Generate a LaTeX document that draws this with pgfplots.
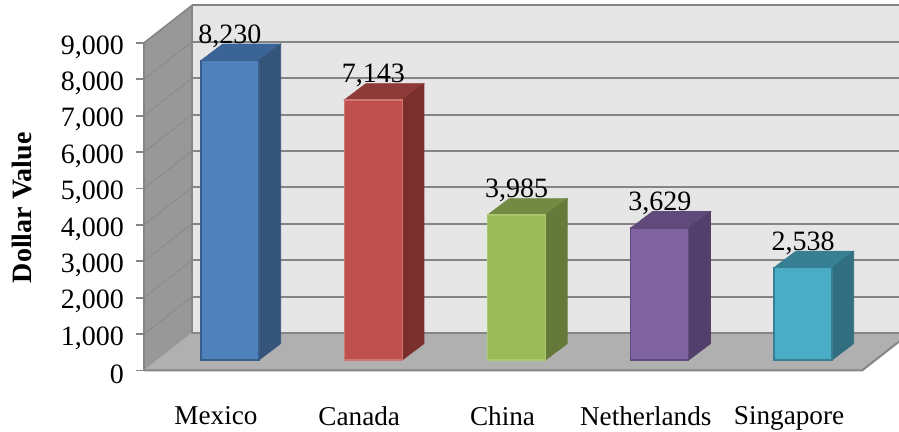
\documentclass[border=0pt]{standalone}
\usepackage{fontspec}
\setmainfont{Liberation Serif}
\usepackage{pgfplots}
\pgfplotsset{compat=1.18}

\definecolor{wallback}{HTML}{E6E6E6}
\definecolor{wallside}{HTML}{989898}
\definecolor{wallfloor}{HTML}{B0B0B0}
\definecolor{gridgray}{HTML}{858585}
\definecolor{blueF}{RGB}{79,129,189}
\definecolor{blueT}{RGB}{58,100,150}
\definecolor{blueS}{RGB}{53,84,122}
\definecolor{blueE}{RGB}{56,93,138}
\definecolor{redF}{RGB}{192,80,77}
\definecolor{redT}{RGB}{142,58,56}
\definecolor{redS}{RGB}{122,47,45}
\definecolor{redE}{RGB}{205,120,117}
\definecolor{greenF}{RGB}{155,187,89}
\definecolor{greenT}{RGB}{114,138,66}
\definecolor{greenS}{RGB}{101,121,58}
\definecolor{greenE}{RGB}{170,200,110}
\definecolor{purpleF}{RGB}{128,100,162}
\definecolor{purpleT}{RGB}{96,74,123}
\definecolor{purpleS}{RGB}{83,63,107}
\definecolor{tealF}{RGB}{75,172,198}
\definecolor{tealT}{RGB}{55,127,147}
\definecolor{tealS}{RGB}{49,111,128}

\pgfplotsset{
  chartbox/.style={
    scale only axis, width=377.5pt, height=182.75pt,
    xmin=-0.6003, xmax=4.67, clip=false,
  },
  face/.style={fill=#1, draw=#1, line width=0.3pt, mark=none},
  frontbar/.style 2 args={ybar, bar width=29pt, bar shift=0pt, fill=#1, draw=#2, line width=0.6pt, nodes near coords},
}

\begin{document}
\begin{tikzpicture}
  \useasboundingbox (-72pt,-30.75pt) rectangle (377.5pt,185.25pt);

  % walls, floor, grid and the tick labels (front plane of the box)
  \begin{axis}[
    chartbox,
    ymin=0, ymax=10041,
    axis line style={draw=none},
    tick pos=left, tick align=outside,
    xtick={0,1,2,3,4},
    xticklabels={Mexico,Canada,China,Netherlands,Singapore},
    xticklabel style={font=\fontsize{13.6}{16}\selectfont, xshift=-7pt, yshift=-10.5pt},
    x tick style={draw=none},
    ytick={0,1000,...,9000},
    scaled y ticks=false,
    ytick style={draw=gridgray, line width=0.9pt},
    major tick length=4pt,
    yticklabel style={font=\fontsize{14}{16}\selectfont, yshift=-2pt, xshift=-2.5pt},
    /pgf/number format/1000 sep={,},
    /pgf/number format/assume math mode=true,
    ylabel={\textbf{Dollar Value}},
    every axis y label/.style={at={(axis description cs:-0.1616,0.445)}, rotate=90, anchor=center, font=\fontsize{14}{16}\selectfont},
  ]
    \addplot[face=wallback] coordinates {(-0.2653,1030) (4.67,1030) (4.67,10030) (-0.2653,10030)} --cycle;
    \addplot[face=wallside] coordinates {(-0.6003,0) (-0.2653,1030) (-0.2653,10030) (-0.6003,9000)} --cycle;
    \addplot[face=wallfloor] coordinates {(-0.6003,0) (-0.2653,1030) (4.67,1030) (4.67,793) (4.412,0)} --cycle;

    % back wall grid
    \addplot[gridgray, line width=1pt, mark=none] coordinates {(-0.2653,1030) (4.67,1030)};
    \addplot[gridgray, line width=1pt, mark=none] coordinates {(-0.2653,2030) (4.67,2030)};
    \addplot[gridgray, line width=1pt, mark=none] coordinates {(-0.2653,3030) (4.67,3030)};
    \addplot[gridgray, line width=1pt, mark=none] coordinates {(-0.2653,4030) (4.67,4030)};
    \addplot[gridgray, line width=1pt, mark=none] coordinates {(-0.2653,5030) (4.67,5030)};
    \addplot[gridgray, line width=1pt, mark=none] coordinates {(-0.2653,6030) (4.67,6030)};
    \addplot[gridgray, line width=1pt, mark=none] coordinates {(-0.2653,7030) (4.67,7030)};
    \addplot[gridgray, line width=1pt, mark=none] coordinates {(-0.2653,8030) (4.67,8030)};
    \addplot[gridgray, line width=1pt, mark=none] coordinates {(-0.2653,9030) (4.67,9030)};
    \addplot[gridgray, line width=1pt, mark=none] coordinates {(-0.2653,10030) (4.67,10030)};
    % side wall grid
    \addplot[gridgray, line width=0.3pt, mark=none] coordinates {(-0.6003,1000) (-0.2653,2030)};
    \addplot[gridgray, line width=0.3pt, mark=none] coordinates {(-0.6003,2000) (-0.2653,3030)};
    \addplot[gridgray, line width=0.3pt, mark=none] coordinates {(-0.6003,3000) (-0.2653,4030)};
    \addplot[gridgray, line width=0.3pt, mark=none] coordinates {(-0.6003,4000) (-0.2653,5030)};
    \addplot[gridgray, line width=0.3pt, mark=none] coordinates {(-0.6003,5000) (-0.2653,6030)};
    \addplot[gridgray, line width=0.3pt, mark=none] coordinates {(-0.6003,6000) (-0.2653,7030)};
    \addplot[gridgray, line width=0.3pt, mark=none] coordinates {(-0.6003,7000) (-0.2653,8030)};
    \addplot[gridgray, line width=0.3pt, mark=none] coordinates {(-0.6003,8000) (-0.2653,9030)};
    % edges of the box
    \addplot[gridgray, line width=0.8pt, mark=none] coordinates {(-0.6003,0) (-0.6003,9000) (-0.2653,10030) (-0.2653,1030)};
    \addplot[gridgray, line width=1pt, mark=none] coordinates {(-0.6003,0) (4.412,0) (4.67,793)};
  \end{axis}

  % bars, base line sits a little behind the front of the floor
  \begin{axis}[
    chartbox,
    ymin=-288, ymax=9753,
    hide axis,
    /pgf/number format/1000 sep={,},
    /pgf/number format/assume math mode=true,
    every node near coord/.append style={
      font=\fontsize{14}{16}\selectfont, text=black, anchor=base, yshift=8.6pt},
  ]
    % Mexico
    \addplot[face=blueT] coordinates {(-0.2025,8230) (-0.051,8680) (0.354,8680) (0.2025,8230)} --cycle;
    \addplot[face=blueS] coordinates {(0.2025,0) (0.354,450) (0.354,8680) (0.2025,8230)} --cycle;
    \addplot[frontbar={blueF}{blueE}] coordinates {(0,8230)};
    % Canada
    \addplot[face=redT] coordinates {(0.7975,7143) (0.949,7593) (1.354,7593) (1.2025,7143)} --cycle;
    \addplot[face=redS] coordinates {(1.2025,0) (1.354,450) (1.354,7593) (1.2025,7143)} --cycle;
    \addplot[frontbar={redF}{redE}] coordinates {(1,7143)};
    % China
    \addplot[face=greenT] coordinates {(1.7975,3985) (1.949,4435) (2.354,4435) (2.2025,3985)} --cycle;
    \addplot[face=greenS] coordinates {(2.2025,0) (2.354,450) (2.354,4435) (2.2025,3985)} --cycle;
    \addplot[frontbar={greenF}{greenE}] coordinates {(2,3985)};
    % Netherlands
    \addplot[face=purpleT] coordinates {(2.7975,3629) (2.949,4079) (3.354,4079) (3.2025,3629)} --cycle;
    \addplot[face=purpleS] coordinates {(3.2025,0) (3.354,450) (3.354,4079) (3.2025,3629)} --cycle;
    \addplot[frontbar={purpleF}{purpleT}] coordinates {(3,3629)};
    % Singapore
    \addplot[face=tealT] coordinates {(3.7975,2538) (3.949,2988) (4.354,2988) (4.2025,2538)} --cycle;
    \addplot[face=tealS] coordinates {(4.2025,0) (4.354,450) (4.354,2988) (4.2025,2538)} --cycle;
    \addplot[frontbar={tealF}{tealT}] coordinates {(4,2538)};
  \end{axis}
\end{tikzpicture}
\end{document}
